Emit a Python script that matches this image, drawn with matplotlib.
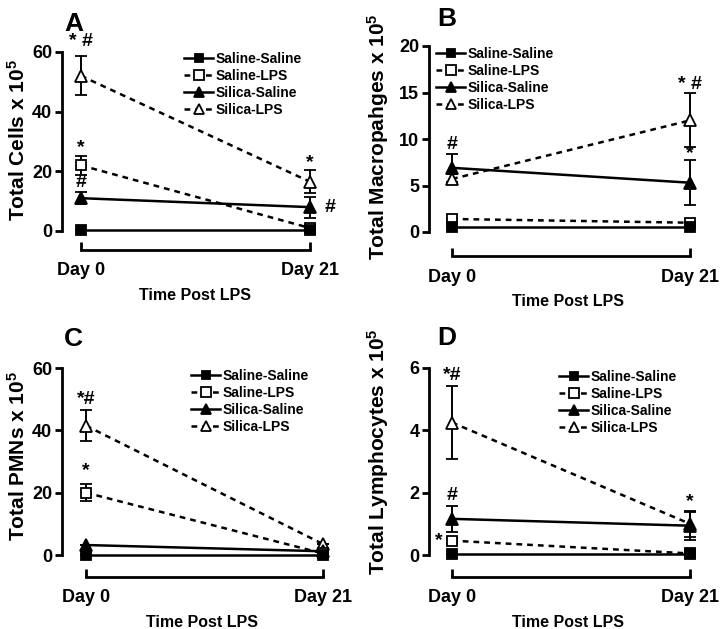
import matplotlib
matplotlib.use("Agg")
import matplotlib.pyplot as plt
from matplotlib.lines import Line2D

plt.rcParams['font.family'] = ['Liberation Sans', 'DejaVu Sans']
plt.rcParams['font.weight'] = 'bold'
plt.rcParams['mathtext.fontset'] = 'custom'
plt.rcParams['mathtext.rm'] = 'Liberation Sans:bold'
plt.rcParams['mathtext.default'] = 'rm'

W, H = 722, 629
DPI = 100

days = ["Day 0", "Day 21"]
series = ["Saline-Saline", "Saline-LPS", "Silica-Saline", "Silica-LPS"]
draw_order = ["Silica-LPS", "Silica-Saline", "Saline-LPS", "Saline-Saline"]

# Panel A: Total cells
a_vals = {"Saline-Saline": [0.5, 0.5], "Saline-LPS": [22, 1.0],
          "Silica-Saline": [11, 8], "Silica-LPS": [52, 16.5]}
a_err = {"Saline-Saline": [0, 0], "Saline-LPS": [3.2, 0],
         "Silica-Saline": [2, 3.5], "Silica-LPS": [6.5, 3.8]}
# Panel B: Macrophages
b_vals = {"Saline-Saline": [0.55, 0.55], "Saline-LPS": [1.4, 1.0],
          "Silica-Saline": [6.9, 5.3], "Silica-LPS": [5.7, 12.0]}
b_err = {"Saline-Saline": [0, 0], "Saline-LPS": [0, 0],
         "Silica-Saline": [1.5, 2.4], "Silica-LPS": [0.5, 2.9]}
# Panel C: PMNs
c_vals = {"Saline-Saline": [0, 0], "Saline-LPS": [20, 0.5],
          "Silica-Saline": [3.2, 1.2], "Silica-LPS": [41.5, 3.5]}
c_err = {"Saline-Saline": [0, 0], "Saline-LPS": [2.7, 0],
         "Silica-Saline": [0, 0], "Silica-LPS": [5.0, 0]}
# Panel D: Lymphocytes
d_vals = {"Saline-Saline": [0.02, 0.02], "Saline-LPS": [0.46, 0.05],
          "Silica-Saline": [1.16, 0.94], "Silica-LPS": [4.25, 1.0]}
d_err = {"Saline-Saline": [0, 0], "Saline-LPS": [0.08, 0],
         "Silica-Saline": [0.41, 0.45], "Silica-LPS": [1.18, 0.42]}

styles = {
    "Saline-Saline": dict(marker='s', ls='-', mfc='black', ms=7.0),
    "Saline-LPS": dict(marker='s', ls=(0, (2.3, 2.0)), mfc='white', ms=7.5),
    "Silica-Saline": dict(marker='^', ls='-', mfc='black', ms=8.5),
    "Silica-LPS": dict(marker='^', ls=(0, (2.3, 2.0)), mfc='white', ms=8.5),
}

fig = plt.figure(figsize=(W / DPI, H / DPI), dpi=DPI)


def make_panel(spine_x, day0_x, day21_x, y0_px, ytop_px, ymax, bar_px,
               vals, errs, yticks, ylabel, ylab_xy, letter, letter_xy,
               leg_xy, annots):
    left, right = spine_x, day21_x + 18
    top, bottom = ytop_px - 4, bar_px
    ax = fig.add_axes([left / W, 1 - bottom / H, (right - left) / W, (bottom - top) / H])
    ppx = (day21_x - day0_x)
    ax.set_xlim(-(day0_x - left) / ppx, (right - day0_x) / ppx)
    ppy = (y0_px - ytop_px) / ymax
    ax.set_ylim(-(bottom - y0_px) / ppy, ymax + (ytop_px - top) / ppy)
    for s in draw_order:
        st = styles[s]
        ax.errorbar([0, 1], vals[s], yerr=errs[s], color='black', lw=1.8,
                    ls=st['ls'], marker=st['marker'], mfc=st['mfc'], mec='black',
                    mew=1.3, ms=st['ms'], ecolor='black', elinewidth=1.4,
                    capsize=4.5, capthick=1.4, clip_on=False, zorder=3)
    for sp in ['top', 'right']:
        ax.spines[sp].set_visible(False)
    ax.spines['left'].set_bounds(0, ymax)
    ax.spines['left'].set_linewidth(2.0)
    ax.spines['bottom'].set_bounds(0, 1)
    ax.spines['bottom'].set_linewidth(2.0)
    ax.set_yticks(yticks)
    ax.set_yticklabels([str(t) for t in yticks], fontsize=13, fontweight='bold')
    ax.set_xticks([0, 1])
    ax.set_xticklabels(days, fontsize=13, fontweight='bold')
    ax.tick_params(axis='y', direction='out', length=5, width=2.0, pad=2)
    ax.tick_params(axis='x', direction='in', length=6, width=2.0, pad=9)
    ax.patch.set_alpha(0)
    ax.set_xlabel("Time Post LPS", fontsize=11.5, fontweight='bold', labelpad=6)
    fig.text(ylab_xy[0] / W, 1 - ylab_xy[1] / H, ylabel, rotation=90,
             ha='center', va='center', fontsize=15, fontweight='bold')
    fig.text(letter_xy[0] / W, 1 - letter_xy[1] / H, letter, ha='left',
             va='top', fontsize=19, fontweight='bold')
    handles = [Line2D([], [], color='black', lw=1.8, ls=styles[s]['ls'],
                      marker=styles[s]['marker'], mfc=styles[s]['mfc'],
                      mec='black', mew=1.3, ms=styles[s]['ms'] * 0.9)
               for s in series]
    fig.legend(handles, series, loc='upper left',
               bbox_to_anchor=(leg_xy[0] / W, 1 - leg_xy[1] / H),
               frameon=False, prop={'weight': 'bold', 'size': 10},
               handlelength=2.1, handletextpad=0.15, labelspacing=0.22,
               borderpad=0, borderaxespad=0)
    for (x, y, t, ha) in annots:
        ax.text(x, y, t, ha=ha, va='center', fontsize=14, fontweight='bold')
    return ax


make_panel(62, 81, 310, 231, 52, 60, 250, a_vals, a_err, [0, 20, 40, 60],
           r"Total Cells x 10$^{5}$", (18, 140), "A", (64, 12), (184, 52),
           [(0, 63.5, "* #", 'center'), (0, 28.0, "*", 'center'),
            (0, 16.3, "#", 'center'), (1, 23.0, "*", 'center'),
            (1.09, 8.0, "#", 'center')])
make_panel(429, 452, 690, 232, 46, 20, 256, b_vals, b_err, [0, 5, 10, 15, 20],
           r"Total Macropahges x 10$^{5}$", (378, 137), "B", (437, 7), (436, 47),
           [(0, 9.4, "#", 'center'), (1, 15.9, "* #", 'center'),
            (1, 8.4, "*", 'center')])
make_panel(62, 86, 323, 555, 368, 60, 577, c_vals, c_err, [0, 20, 40, 60],
           r"Total PMNs x 10$^{5}$", (18, 456), "C", (64, 327), (191, 369),
           [(0, 50.0, "*#", 'center'), (0, 27.0, "*", 'center')])
make_panel(429, 452, 690, 555, 368, 6, 577, d_vals, d_err, [0, 2, 4, 6],
           r"Total Lymphocytes x 10$^{5}$", (378, 452), "D", (437, 326), (559, 370),
           [(0, 5.75, "*#", 'center'), (0, 1.9, "#", 'center'),
            (-0.04, 0.45, "*", 'right'), (1, 1.7, "*", 'center')])

fig.savefig("out.png", dpi=DPI)
